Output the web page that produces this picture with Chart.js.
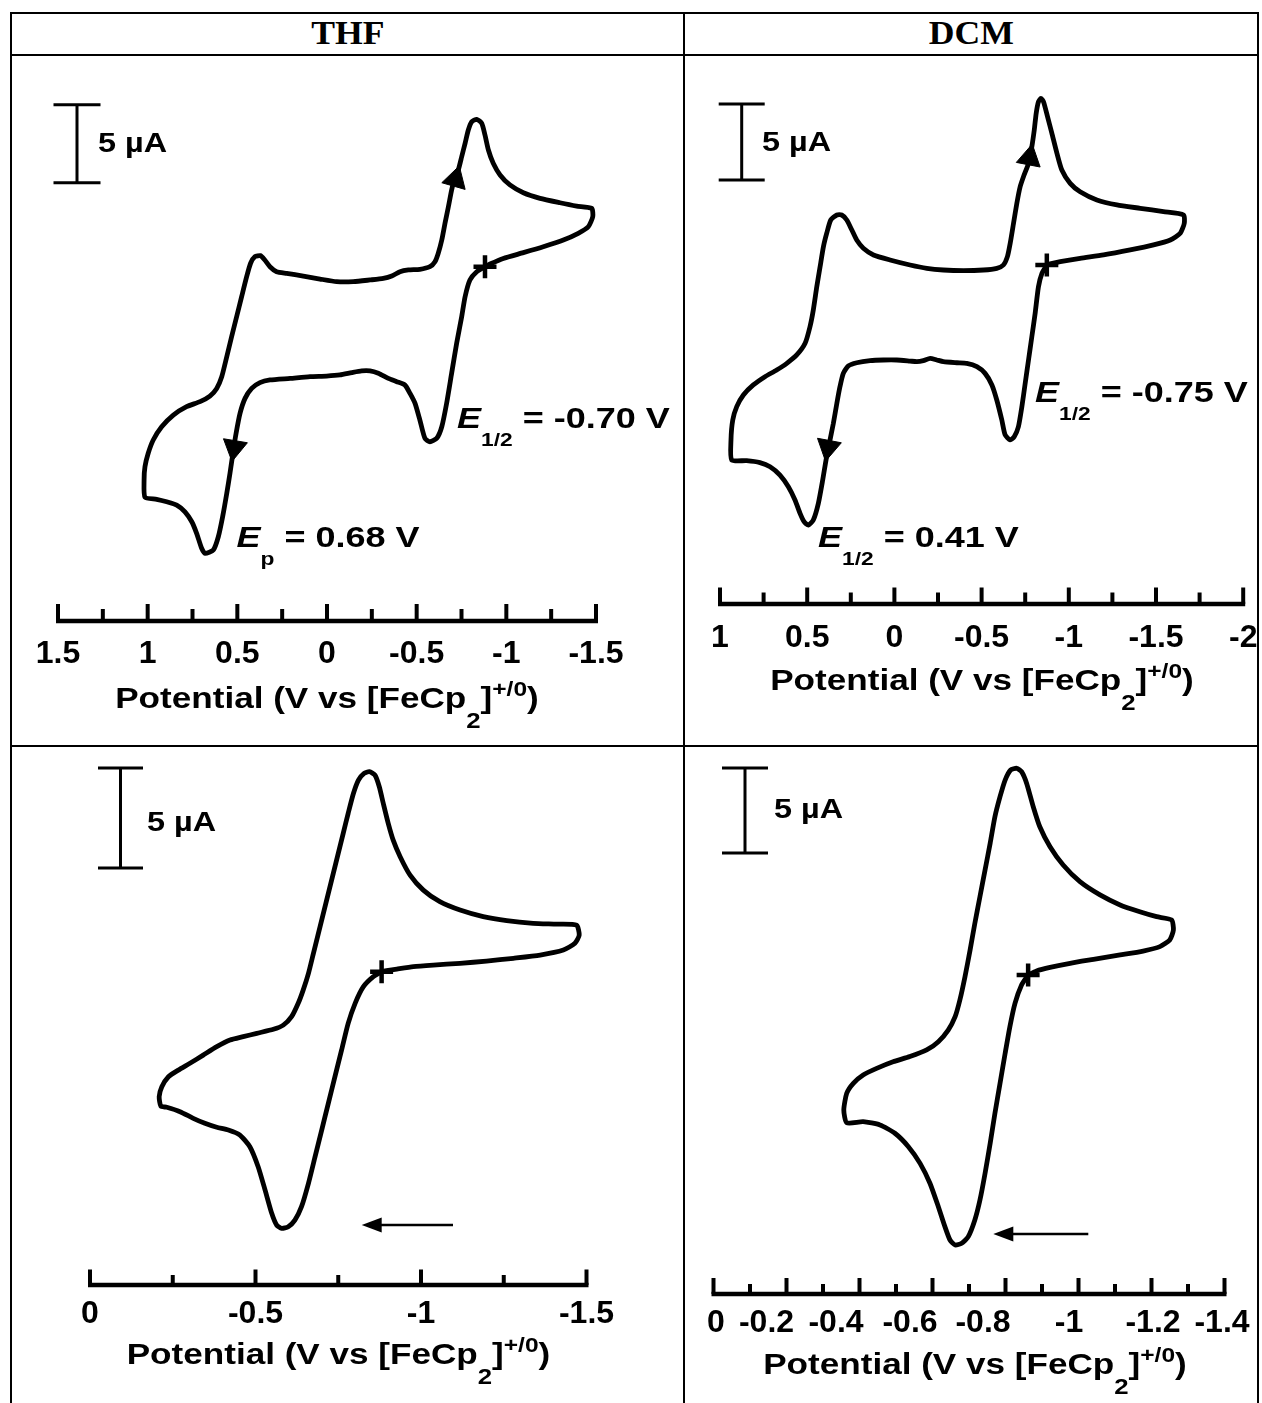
<!DOCTYPE html>
<html lang="en">
<head>
<meta charset="utf-8">
<title>Cyclic voltammograms in THF and DCM</title>
<script src="https://cdn.jsdelivr.net/npm/chart.js@4.4.1/dist/chart.umd.min.js"></script>
<style>
  html, body { margin: 0; padding: 0; background: #fff; }
  #sheet { position: relative; width: 1262px; height: 1403px; overflow: hidden; background: #fff; }
  .rule { position: absolute; background: #000; }
  .solvent { position: absolute; top: 15px; height: 40px; line-height: 40px; text-align: center;
             font: bold 33px "Liberation Serif", "DejaVu Serif", serif; color: #000; }
  .solvent span { display: inline-block; transform: scaleX(1.08); }
  canvas { position: absolute; }
</style>
</head>
<body>
<div id="sheet">
  <div class="rule" style="left:10px;top:12px;width:1249px;height:2px"></div>
  <div class="rule" style="left:10px;top:54px;width:1249px;height:2px"></div>
  <div class="rule" style="left:10px;top:745px;width:1249px;height:2px"></div>
  <div class="rule" style="left:10px;top:12px;width:2px;height:1391px"></div>
  <div class="rule" style="left:683px;top:12px;width:2px;height:1391px"></div>
  <div class="rule" style="left:1257px;top:12px;width:2px;height:1391px"></div>
  <div class="solvent" style="left:12px;width:671px"><span>THF</span></div>
  <div class="solvent" style="left:685px;width:572px"><span>DCM</span></div>
  <canvas id="thfWide"></canvas>
  <canvas id="dcmWide"></canvas>
  <canvas id="thfNarrow"></canvas>
  <canvas id="dcmNarrow"></canvas>
</div>
<script>
// ---------- THF, full window (V vs FeCp2, current in µA) ----------
const thfWidePotential = [
  -0.881, -0.835, -0.797, -0.770, -0.751, -0.723, -0.695, -0.667, -0.640, -0.612,
  -0.574, -0.546, -0.518, -0.491, -0.463, -0.435, -0.389, -0.342, -0.286, -0.240,
  -0.193, -0.138, -0.072, 0.002, 0.095, 0.206, 0.318, 0.374, 0.420, 0.457,
  0.485, 0.507, 0.522, 0.541, 0.559, 0.582, 0.606, 0.634, 0.680, 0.699,
  0.727, 0.754, 0.792, 0.838, 0.894, 0.950, 1.015, 1.020, 1.015, 0.997,
  0.969, 0.922, 0.857, 0.783, 0.708, 0.653, 0.615, 0.587, 0.559, 0.532,
  0.504, 0.476, 0.448, 0.426, 0.402, 0.371, 0.347, 0.318, 0.281, 0.225,
  0.132, 0.039, -0.054, -0.147, -0.240, -0.314, -0.361, -0.407, -0.454, -0.518,
  -0.574, -0.602, -0.620, -0.640, -0.658, -0.677, -0.695, -0.714, -0.732, -0.751,
  -0.770, -0.788, -0.807, -0.835, -0.863, -0.881, -0.900, -0.927, -0.965, -1.020,
  -1.095, -1.188, -1.299, -1.392, -1.476, -1.482, -1.457, -1.401, -1.318, -1.206,
  -1.095, -0.983, -0.909, -0.881
];
const thfWideCurrent = [
  0, -0.32, -0.85, -1.92, -3.21, -4.91, -6.83, -8.76, -10.26, -11.00,
  -11.22, -11.00, -9.83, -8.76, -8.12, -7.59, -7.37, -7.16, -6.83, -6.68,
  -6.68, -6.79, -6.94, -7.01, -7.05, -7.16, -7.26, -7.43, -7.80, -8.44,
  -9.40, -10.68, -11.75, -13.24, -14.53, -16.03, -17.31, -18.16, -18.37, -18.05,
  -17.09, -16.35, -15.71, -15.28, -15.07, -14.91, -14.78, -13.67, -12.82, -11.96,
  -11.11, -10.26, -9.51, -8.97, -8.65, -8.29, -7.80, -7.05, -5.77, -4.49,
  -3.21, -1.92, -0.64, 0.22, 0.64, 0.71, 0.43, 0.00, -0.32, -0.43,
  -0.60, -0.79, -0.96, -0.96, -0.85, -0.75, -0.60, -0.32, -0.21, -0.17,
  0.00, 0.32, 0.85, 1.71, 2.78, 3.85, 4.92, 5.77, 6.20, 7.05,
  7.91, 8.76, 9.29, 9.45, 9.19, 8.44, 7.48, 6.63, 5.88, 5.24,
  4.74, 4.38, 4.10, 3.89, 3.74, 3.21, 2.56, 2.14, 1.71, 1.28,
  0.90, 0.53, 0.17, 0
];
const thfWideArrowPotential = [-0.716, 0.517];
const thfWideArrowCurrent = [5.6, -11.6];
const thfWideMajorTicks = [1.5, 1, 0.5, 0, -0.5, -1, -1.5];
const thfWideMinorTicks = [1.25, 0.75, 0.25, -0.25, -0.75, -1.25];
const thfWideTickLabels = ['1.5', '1', '0.5', '0', '-0.5', '-1', '-1.5'];

// ---------- DCM, full window ----------
const dcmWidePotential = [
  -0.874, -0.846, -0.826, -0.807, -0.788, -0.769, -0.750, -0.731, -0.711, -0.687,
  -0.664, -0.635, -0.616, -0.587, -0.559, -0.520, -0.473, -0.415, -0.358, -0.281,
  -0.243, -0.205, -0.166, -0.129, -0.090, -0.014, 0.063, 0.139, 0.216, 0.264,
  0.293, 0.312, 0.330, 0.350, 0.373, 0.392, 0.411, 0.436, 0.465, 0.493,
  0.518, 0.541, 0.570, 0.608, 0.656, 0.713, 0.771, 0.847, 0.933, 0.937,
  0.927, 0.904, 0.866, 0.809, 0.742, 0.675, 0.617, 0.560, 0.512, 0.484,
  0.465, 0.445, 0.426, 0.407, 0.388, 0.365, 0.330, 0.302, 0.273, 0.244,
  0.216, 0.178, 0.120, 0.025, -0.090, -0.186, -0.281, -0.396, -0.511, -0.587,
  -0.625, -0.648, -0.664, -0.683, -0.702, -0.721, -0.740, -0.769, -0.788, -0.802,
  -0.813, -0.826, -0.840, -0.855, -0.878, -0.903, -0.932, -0.960, -1.008, -1.065,
  -1.161, -1.276, -1.410, -1.543, -1.658, -1.662, -1.639, -1.582, -1.486, -1.352,
  -1.199, -1.065, -0.951, -0.893, -0.874
];
const dcmWideCurrent = [
  0, -0.55, -1.43, -3.18, -4.72, -6.25, -7.78, -9.32, -10.64, -11.30,
  -11.51, -11.18, -10.20, -8.88, -7.89, -7.13, -6.69, -6.47, -6.43, -6.36,
  -6.25, -6.14, -6.29, -6.36, -6.32, -6.25, -6.25, -6.29, -6.43, -6.64,
  -7.13, -8.00, -9.10, -10.42, -11.73, -12.83, -14.14, -15.68, -16.78, -17.11,
  -16.89, -16.34, -15.46, -14.59, -13.82, -13.27, -13.00, -12.87, -12.83, -11.51,
  -10.20, -9.32, -8.55, -7.89, -7.35, -6.91, -6.47, -5.92, -5.15, -4.06,
  -2.96, -1.43, -0.11, 1.20, 2.09, 2.96, 3.29, 3.29, 2.96, 2.30,
  1.64, 1.10, 0.66, 0.33, 0, -0.22, -0.33, -0.37, -0.33, -0.22,
  0, 0.55, 1.43, 2.74, 4.06, 5.15, 5.81, 6.69, 7.78, 8.88,
  9.98, 10.74, 10.96, 10.74, 9.76, 8.66, 7.35, 6.25, 5.37, 4.82,
  4.28, 3.95, 3.73, 3.51, 3.29, 2.74, 2.09, 1.64, 1.32, 0.99,
  0.66, 0.44, 0.22, 0.07, 0
];
const dcmWideArrowPotential = [-0.775, 0.380];
const dcmWideArrowCurrent = [7.05, -12.0];
const dcmWideMajorTicks = [1, 0.5, 0, -0.5, -1, -1.5, -2];
const dcmWideMinorTicks = [0.75, 0.25, -0.25, -0.75, -1.25, -1.75];
const dcmWideTickLabels = ['1', '0.5', '0', '-0.5', '-1', '-1.5', '-2'];

// ---------- THF, reduction window only ----------
const thfNarrowPotential = [
  -0.881, -0.856, -0.826, -0.801, -0.780, -0.760, -0.740, -0.720, -0.700, -0.680,
  -0.660, -0.639, -0.619, -0.599, -0.579, -0.564, -0.549, -0.529, -0.508, -0.483,
  -0.453, -0.418, -0.383, -0.347, -0.312, -0.272, -0.232, -0.214, -0.209, -0.217,
  -0.237, -0.267, -0.302, -0.342, -0.383, -0.423, -0.463, -0.504, -0.554, -0.584,
  -0.609, -0.629, -0.644, -0.660, -0.675, -0.690, -0.705, -0.720, -0.735, -0.750,
  -0.765, -0.780, -0.796, -0.811, -0.828, -0.844, -0.861, -0.874, -0.886, -0.901,
  -0.916, -0.937, -0.967, -1.007, -1.057, -1.118, -1.188, -1.259, -1.339, -1.410,
  -1.470, -1.478, -1.465, -1.430, -1.360, -1.279, -1.198, -1.118, -1.037, -0.977,
  -0.927, -0.896, -0.881
];
const thfNarrowCurrent = [
  0, -0.25, -0.75, -1.58, -2.58, -3.92, -5.25, -6.58, -7.92, -9.25,
  -10.58, -11.75, -12.42, -12.75, -12.83, -12.67, -12.08, -10.92, -9.75, -8.75,
  -8.17, -7.92, -7.78, -7.58, -7.33, -7.00, -6.78, -6.72, -6.25, -5.75,
  -5.25, -4.92, -4.58, -4.17, -3.75, -3.42, -3.25, -3.08, -2.88, -2.67,
  -2.25, -1.58, -0.92, -0.08, 0.92, 1.92, 2.92, 3.92, 4.92, 5.92,
  6.92, 7.92, 8.92, 9.58, 9.92, 10.00, 9.83, 9.25, 8.42, 7.42,
  6.58, 5.75, 4.83, 4.08, 3.50, 3.08, 2.75, 2.55, 2.42, 2.38,
  2.33, 1.83, 1.42, 1.08, 0.83, 0.67, 0.53, 0.42, 0.33, 0.25,
  0.13, 0.05, 0
];
const thfNarrowMajorTicks = [0, -0.5, -1, -1.5];
const thfNarrowMinorTicks = [-0.25, -0.75, -1.25];
const thfNarrowTickLabels = ['0', '-0.5', '-1', '-1.5'];

// ---------- DCM, reduction window only ----------
const dcmNarrowPotential = [
  -0.862, -0.844, -0.826, -0.812, -0.799, -0.785, -0.771, -0.758, -0.744, -0.730,
  -0.716, -0.698, -0.680, -0.662, -0.648, -0.634, -0.616, -0.593, -0.566, -0.534,
  -0.497, -0.456, -0.410, -0.365, -0.357, -0.365, -0.383, -0.410, -0.447, -0.492,
  -0.538, -0.584, -0.616, -0.643, -0.662, -0.675, -0.689, -0.703, -0.716, -0.730,
  -0.744, -0.758, -0.771, -0.785, -0.799, -0.814, -0.831, -0.844, -0.858, -0.876,
  -0.894, -0.922, -0.958, -1.004, -1.059, -1.114, -1.168, -1.214, -1.255, -1.260,
  -1.250, -1.223, -1.177, -1.114, -1.041, -0.977, -0.922, -0.885, -0.862
];
const dcmNarrowCurrent = [
  0, -0.59, -1.67, -3.04, -4.61, -6.37, -8.14, -9.90, -11.67, -13.24,
  -14.41, -15.39, -15.78, -15.88, -15.59, -14.80, -13.63, -12.25, -11.08, -10.10,
  -9.31, -8.82, -8.63, -8.69, -7.94, -6.96, -6.37, -5.88, -5.49, -5.10,
  -4.80, -4.41, -3.92, -3.24, -2.45, -1.47, -0.10, 1.47, 3.04, 4.61,
  6.18, 7.75, 9.31, 10.49, 11.47, 12.06, 12.16, 11.96, 11.27, 9.90,
  8.72, 7.55, 6.47, 5.49, 4.71, 4.12, 3.72, 3.43, 3.24, 2.65,
  2.06, 1.67, 1.41, 1.18, 0.92, 0.69, 0.45, 0.24, 0
];
const dcmNarrowMajorTicks = [0, -0.2, -0.4, -0.6, -0.8, -1, -1.2, -1.4];
const dcmNarrowMinorTicks = [-0.1, -0.3, -0.5, -0.7, -0.9, -1.1, -1.3];
const dcmNarrowTickLabels = ['0', '-0.2', '-0.4', '-0.6', '-0.8', '-1', '-1.2', '-1.4'];

// ---------- shared text ----------
const axisTitleText = ['Potential (V vs [FeCp', '2', ']', '+/0', ')'];
const scaleBarMicroamps = 5;
const scaleBarText = scaleBarMicroamps + ' \u00B5A';

const BLACK = '#000';
const SANS = '"Liberation Sans", Arial, Helvetica, sans-serif';
const FONT_MAIN = 'bold 30px ' + SANS;
const FONT_ITALIC = 'italic bold 30px ' + SANS;
const FONT_SMALL = 'bold 19px ' + SANS;
const FONT_TICK = 'bold 32px ' + SANS;
const FONT_BAR = 'bold 27px ' + SANS;

function potentialNote(symbol, sub, rest) {
  return [
    { text: symbol, font: FONT_ITALIC, dy: 0 },
    { text: sub, font: FONT_SMALL, dy: 18 },
    { text: rest, font: FONT_MAIN, dy: 0 }
  ];
}

// layout of each cell (page pixels) and how its plot is framed
const panels = [
  {
    canvas: 'thfWide', cell: { left: 12, top: 56, width: 671, height: 689 },
    potential: thfWidePotential, current: thfWideCurrent,
    arrowPotential: thfWideArrowPotential, arrowCurrent: thfWideArrowCurrent, arrowRotation: [16, 189.5],
    xMin: -1.5, xMax: 1.5, axisLeft: 58, axisRight: 596, axisY: 621, areaTop: 58,
    zeroY: 266.7, pxPerUnit: 15.6,
    majorTicks: thfWideMajorTicks, minorTicks: thfWideMinorTicks, tickLabels: thfWideTickLabels,
    majorLen: 17, minorLen: 12, tickLabelBaseline: 663, titleCenter: 327, titleBaseline: 708,
    bar: { x: 77, bottom: 182.7, half: 23.5, labelX: 98, labelBaseline: 151.7 },
    notes: [
      { x: 457, y: 428, parts: potentialNote('E', '1/2', ' = -0.70 V') },
      { x: 236.5, y: 547, parts: potentialNote('E', 'p', ' = 0.68 V') }
    ]
  },
  {
    canvas: 'dcmWide', cell: { left: 685, top: 56, width: 572, height: 689 },
    potential: dcmWidePotential, current: dcmWideCurrent,
    arrowPotential: dcmWideArrowPotential, arrowCurrent: dcmWideArrowCurrent, arrowRotation: [11, 190.7],
    xMin: -2, xMax: 1, axisLeft: 720, axisRight: 1243.2, axisY: 604, areaTop: 58,
    zeroY: 265, pxPerUnit: 15.2,
    majorTicks: dcmWideMajorTicks, minorTicks: dcmWideMinorTicks, tickLabels: dcmWideTickLabels,
    majorLen: 16.5, minorLen: 11.5, tickLabelBaseline: 647, titleCenter: 982, titleBaseline: 690,
    bar: { x: 741.7, bottom: 180, half: 23, labelX: 762, labelBaseline: 151.2 },
    notes: [
      { x: 1035, y: 402, parts: potentialNote('E', '1/2', ' = -0.75 V') },
      { x: 818, y: 547, parts: potentialNote('E', '1/2', ' = 0.41 V') }
    ]
  },
  {
    canvas: 'thfNarrow', cell: { left: 12, top: 747, width: 671, height: 656 },
    potential: thfNarrowPotential, current: thfNarrowCurrent,
    xMin: -1.5, xMax: 0, axisLeft: 90, axisRight: 586.5, axisY: 1285, areaTop: 749,
    zeroY: 971.7, pxPerUnit: 20,
    majorTicks: thfNarrowMajorTicks, minorTicks: thfNarrowMinorTicks, tickLabels: thfNarrowTickLabels,
    majorLen: 15.5, minorLen: 10, tickLabelBaseline: 1323, titleCenter: 338.5, titleBaseline: 1364,
    bar: { x: 120.5, bottom: 868, half: 22.5, labelX: 147, labelBaseline: 831.4 },
    scanArrow: { tipX: 361.7, tailX: 453, y: 1225 },
    notes: []
  },
  {
    canvas: 'dcmNarrow', cell: { left: 685, top: 747, width: 572, height: 656 },
    potential: dcmNarrowPotential, current: dcmNarrowCurrent,
    xMin: -1.4, xMax: 0, axisLeft: 713.5, axisRight: 1224.5, axisY: 1294, areaTop: 749,
    zeroY: 975, pxPerUnit: 17,
    majorTicks: dcmNarrowMajorTicks, minorTicks: dcmNarrowMinorTicks, tickLabels: dcmNarrowTickLabels,
    labelShift: [2.5, -20, -23.5, -22.5, -22.5, -9.5, 1.5, -2.5],
    majorLen: 16, minorLen: 10, tickLabelBaseline: 1332, titleCenter: 975, titleBaseline: 1374,
    bar: { x: 745, bottom: 853, half: 23, labelX: 774, labelBaseline: 817.7 },
    scanArrow: { tipX: 993.3, tailX: 1088.3, y: 1234 },
    notes: []
  }
];

// draws text pieces one after another; x is the start (align 'left') or the middle ('center')
function drawRun(ctx, parts, x, baseline, sx, align) {
  const widths = parts.map(p => { ctx.font = p.font; return ctx.measureText(p.text).width * sx; });
  const total = widths.reduce((a, b) => a + b, 0);
  let cursor = align === 'center' ? x - total / 2 : x;
  parts.forEach((p, i) => {
    ctx.save();
    ctx.font = p.font;
    ctx.textAlign = 'left';
    ctx.textBaseline = 'alphabetic';
    ctx.translate(cursor, baseline + (p.dy || 0));
    ctx.scale(sx, 1);
    ctx.fillText(p.text, 0, 0);
    ctx.restore();
    cursor += widths[i];
  });
}

const titleParts = [
  { text: axisTitleText[0], font: FONT_MAIN, dy: 0 },
  { text: axisTitleText[1], font: 'bold 22px ' + SANS, dy: 20 },
  { text: axisTitleText[2], font: FONT_MAIN, dy: 0 },
  { text: axisTitleText[3], font: 'bold 21px ' + SANS, dy: -12 },
  { text: axisTitleText[4], font: FONT_MAIN, dy: 0 }
];

function makeChart(p) {
  const canvas = document.getElementById(p.canvas);
  const ox = p.cell.left, oy = p.cell.top;
  canvas.width = p.cell.width;
  canvas.height = p.cell.height;
  canvas.style.left = ox + 'px';
  canvas.style.top = oy + 'px';

  const trace = p.potential.map((v, i) => ({ x: v, y: p.current[i] }));
  const start = [{ x: p.potential[0], y: p.current[0] }];
  const arrows = (p.arrowPotential || []).map((v, i) => ({ x: v, y: p.arrowCurrent[i] }));

  const painter = {
    id: 'painter_' + p.canvas,
    afterDatasetsDraw(chart) {
      const ctx = chart.ctx;
      const area = chart.chartArea;
      const xs = chart.scales.x, ys = chart.scales.y;
      ctx.save();
      ctx.fillStyle = BLACK;
      ctx.strokeStyle = BLACK;

      // potential axis: line with upward ticks
      const ay = area.bottom;
      ctx.lineCap = 'butt';
      ctx.lineWidth = 4.5;
      ctx.beginPath();
      ctx.moveTo(area.left - 2, ay);
      ctx.lineTo(area.right + 2, ay);
      ctx.stroke();
      ctx.lineWidth = 4;
      p.majorTicks.forEach(v => {
        const px = xs.getPixelForValue(v);
        ctx.beginPath(); ctx.moveTo(px, ay); ctx.lineTo(px, ay - p.majorLen); ctx.stroke();
      });
      p.minorTicks.forEach(v => {
        const px = xs.getPixelForValue(v);
        ctx.beginPath(); ctx.moveTo(px, ay); ctx.lineTo(px, ay - p.minorLen); ctx.stroke();
      });
      ctx.font = FONT_TICK;
      ctx.textAlign = 'center';
      ctx.textBaseline = 'alphabetic';
      p.majorTicks.forEach((v, i) => {
        const shift = p.labelShift ? p.labelShift[i] : 0;
        ctx.fillText(p.tickLabels[i], xs.getPixelForValue(v) + shift, p.tickLabelBaseline - oy);
      });
      drawRun(ctx, titleParts, p.titleCenter - ox, p.titleBaseline - oy, 1.17, 'center');

      // current scale bar, sized from the current scale
      const span = ys.getPixelForValue(0) - ys.getPixelForValue(scaleBarMicroamps);
      const bx = p.bar.x - ox, bb = p.bar.bottom - oy, bt = bb - span, h = p.bar.half;
      ctx.lineWidth = 3;
      ctx.beginPath();
      ctx.moveTo(bx, bt); ctx.lineTo(bx, bb);
      ctx.moveTo(bx - h, bt); ctx.lineTo(bx + h, bt);
      ctx.moveTo(bx - h, bb); ctx.lineTo(bx + h, bb);
      ctx.stroke();
      drawRun(ctx, [{ text: scaleBarText, font: FONT_BAR, dy: 0 }], p.bar.labelX - ox, p.bar.labelBaseline - oy, 1.2, 'left');

      // potential notes
      p.notes.forEach(n => drawRun(ctx, n.parts, n.x - ox, n.y - oy, 1.2, 'left'));

      // initial scan direction
      if (p.scanArrow) {
        const s = p.scanArrow;
        const tip = s.tipX - ox, tail = s.tailX - ox, y = s.y - oy;
        ctx.lineWidth = 2.5;
        ctx.beginPath(); ctx.moveTo(tip + 18, y); ctx.lineTo(tail, y); ctx.stroke();
        ctx.beginPath();
        ctx.moveTo(tip, y);
        ctx.lineTo(tip + 20, y - 7.5);
        ctx.lineTo(tip + 20, y + 7.5);
        ctx.closePath();
        ctx.fill();
      }
      ctx.restore();
    }
  };

  return new Chart(canvas, {
    type: 'scatter',
    data: {
      datasets: [
        { data: start, pointStyle: 'cross', pointRadius: 11.5, borderColor: BLACK, borderWidth: 4.5,
          order: 0, clip: false },
        { data: arrows, pointStyle: 'triangle', pointRadius: 14, pointRotation: p.arrowRotation || 0,
          backgroundColor: BLACK, borderColor: BLACK, borderWidth: 1, order: 0, clip: false },
        { data: trace, showLine: true, borderColor: BLACK, borderWidth: 4.8, pointRadius: 0,
          tension: 0.2, borderJoinStyle: 'round', borderCapStyle: 'round', fill: false,
          order: 1, clip: false }
      ]
    },
    options: {
      responsive: false,
      animation: false,
      devicePixelRatio: 1,
      events: [],
      layout: {
        autoPadding: false,
        padding: {
          left: p.axisLeft - ox,
          right: ox + p.cell.width - p.axisRight,
          top: p.areaTop - oy,
          bottom: oy + p.cell.height - p.axisY
        }
      },
      scales: {
        x: { type: 'linear', min: p.xMin, max: p.xMax, reverse: true, display: false },
        y: { type: 'linear', min: (p.zeroY - p.axisY) / p.pxPerUnit,
             max: (p.zeroY - p.areaTop) / p.pxPerUnit, display: false }
      },
      plugins: { legend: { display: false }, tooltip: { enabled: false } }
    },
    plugins: [painter]
  });
}

panels.forEach(makeChart);
</script>
</body>
</html>
